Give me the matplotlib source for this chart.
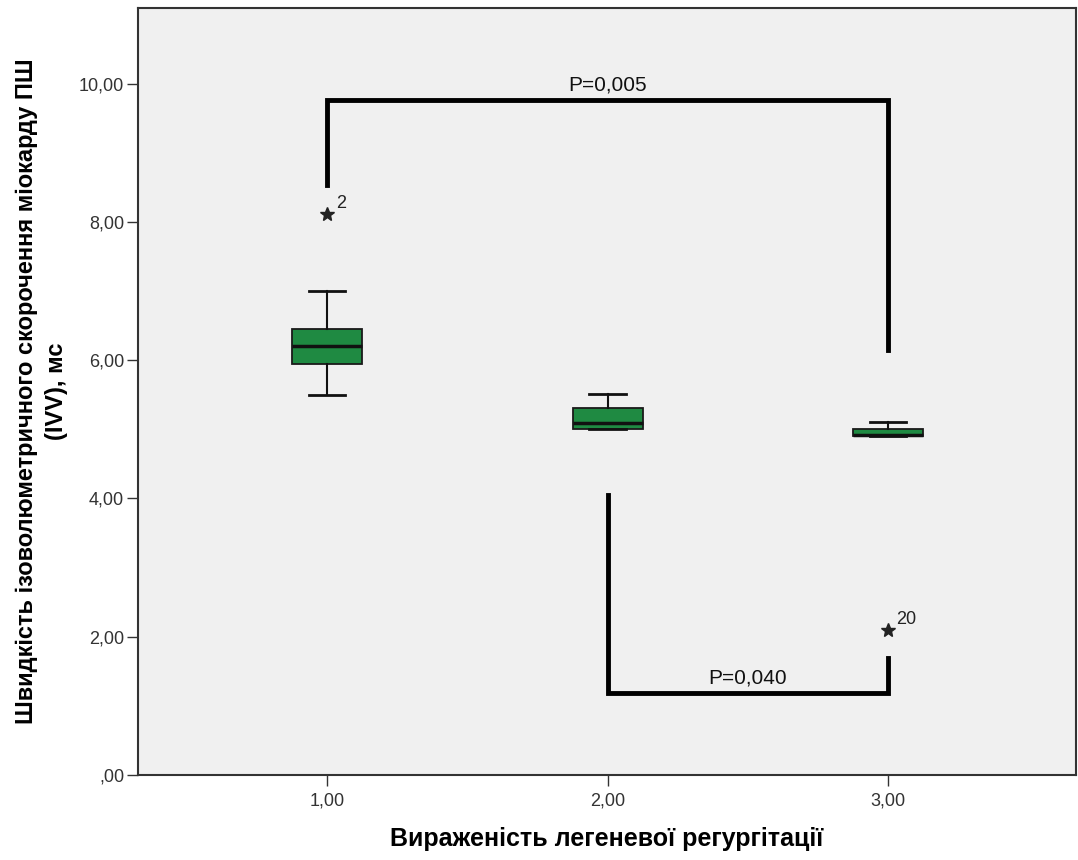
import matplotlib
matplotlib.use('Agg')
import matplotlib.pyplot as plt
from matplotlib.ticker import FuncFormatter

plt.rcParams['font.family'] = ['Liberation Sans', 'DejaVu Sans']

# group positions and box statistics
groups = [1.0, 2.0, 3.0]
q1 = [5.95, 5.0, 4.9]
medians = [6.21, 5.09, 4.92]
q3 = [6.45, 5.31, 5.0]
whisk_lo = [5.5, 5.0, 4.9]
whisk_hi = [7.0, 5.51, 5.1]
outlier_x = [1.0, 3.0]
outlier_y = [8.12, 2.1]
outlier_ids = ['2', '20']

# significance brackets: (x1, x2, y_bar, y_leg1, y_leg2, label)
brackets = [
    (1.0, 3.0, 9.77, 8.54, 6.15, 'P=0,005'),
    (2.0, 3.0, 1.19, 4.05, 1.69, 'P=0,040'),
]

fig = plt.figure(figsize=(10.78, 8.6), dpi=100)
ax = fig.add_axes([0.128, 0.099, 0.870, 0.892])
ax.set_facecolor('#f0f0f0')

stats = []
for i in range(len(groups)):
    stats.append({'med': medians[i], 'q1': q1[i], 'q3': q3[i],
                  'whislo': whisk_lo[i], 'whishi': whisk_hi[i], 'fliers': []})

ax.bxp(stats, positions=groups, widths=0.25, patch_artist=True,
       boxprops=dict(facecolor='#1f8a42', edgecolor='#1a1a1a', linewidth=1.3),
       medianprops=dict(color='#111111', linewidth=2.5),
       whiskerprops=dict(color='#111111', linewidth=1.5),
       capprops=dict(color='#111111', linewidth=2),
       capwidths=0.13, showfliers=False)

ax.plot(outlier_x, outlier_y, linestyle='none', marker='*', color='#222222',
        markersize=10)
for x, y, lab in zip(outlier_x, outlier_y, outlier_ids):
    ax.text(x + 0.03, y + 0.08, lab, fontsize=13, color='#222222')

for x1, x2, yb, yl1, yl2, lab in brackets:
    ax.plot([x1, x1, x2, x2], [yl1, yb, yb, yl2], color='black', linewidth=3.5,
            solid_joinstyle='miter')
    ax.text((x1 + x2) / 2, yb + 0.08, lab, ha='center', va='bottom',
            fontsize=15, color='#111111')

ax.set_xlim(0.325, 3.67)
ax.set_ylim(0, 11.1)
ax.set_xticks(groups)
ax.set_xticklabels(['1,00', '2,00', '3,00'])
ax.set_yticks([0, 2, 4, 6, 8, 10])
ax.yaxis.set_major_formatter(FuncFormatter(
    lambda v, p: ',00' if v == 0 else f'{v:.2f}'.replace('.', ',')))
ax.tick_params(axis='both', labelsize=13, colors='#333333', length=8, width=1,
               pad=2)
ax.tick_params(axis='x', pad=5)
for s in ax.spines.values():
    s.set_color('#333333')
    s.set_linewidth(1.5)

ax.set_xlabel('Вираженість легеневої регургітації', fontsize=18,
              fontweight='bold', labelpad=12)
ax.set_ylabel('Швидкість ізоволюметричного скорочення міокарду ПШ\n(IVV), мс',
              fontsize=17, fontweight='bold', labelpad=8, linespacing=1.4)

fig.savefig('out.png', dpi=100)
